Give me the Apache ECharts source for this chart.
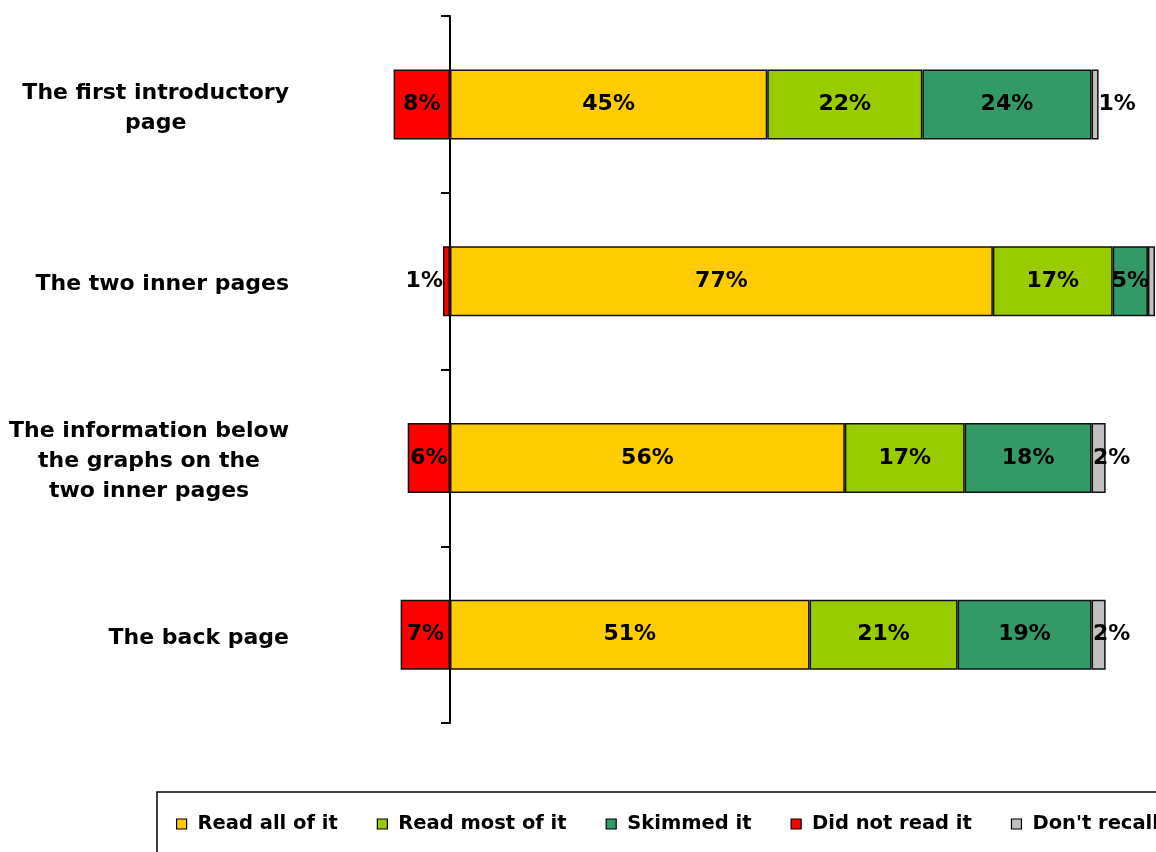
<!DOCTYPE html>
<html>
<head>
<meta charset="utf-8">
<script src="https://cdn.jsdelivr.net/npm/echarts@6/dist/echarts.min.js"></script>
<style>
html,body{margin:0;padding:0;background:#fff;overflow:hidden;width:1156px;height:852px;}
#chart{width:1300px;height:852px;}
</style>
</head>
<body>
<div id="chart"></div>
<script>
const categories = ['The first introductory\npage', 'The two inner pages', 'The information below\nthe graphs on the\ntwo inner pages', 'The back page'];
const readAll = [45, 77, 56, 51];
const readMost = [22, 17, 17, 21];
const skimmed = [24, 5, 18, 19];
const notRead = [8, 1, 6, 7];
const dontRecall = [1, 1, 2, 2];
const seriesNames = ['Read all of it', 'Read most of it', 'Skimmed it', 'Did not read it', "Don't recall"];

const FONT = '"DejaVu Sans", Verdana, sans-serif';
const colors = {
  'Read all of it': '#FFCC00',
  'Read most of it': '#99CC00',
  'Skimmed it': '#339966',
  'Did not read it': '#FF0000',
  "Don't recall": '#C0C0C0'
};

const labelBase = {
  show: true,
  position: 'inside',
  color: '#000',
  fontFamily: FONT,
  fontWeight: 'bold',
  fontSize: 22,
  formatter: p => Math.abs(p.value) + '%'
};

function makeSeries(name, values, itemFn) {
  return {
    name: name,
    type: 'bar',
    stack: 'total',
    barWidth: 70,
    itemStyle: { color: colors[name], borderColor: '#111', borderWidth: 1.5 },
    label: labelBase,
    emphasis: { disabled: true },
    data: values.map((v, i) => itemFn ? itemFn(v, i) : v)
  };
}

const series = [
  makeSeries('Did not read it', notRead, (v, i) => {
    const item = { value: -v };
    if (v < 2) item.label = { position: 'left', distance: 0 };
    return item;
  }),
  makeSeries('Read all of it', readAll),
  makeSeries('Read most of it', readMost),
  makeSeries('Skimmed it', skimmed),
  makeSeries("Don't recall", dontRecall, (v, i) => {
    const item = { value: v };
    if (i === 1) item.label = { show: false };
    else item.label = { offset: [v < 2 ? 22 : 13, 0] };
    return item;
  })
];

const chart = echarts.init(document.getElementById('chart'), null, { renderer: 'canvas' });
chart.setOption({
  animation: false,
  backgroundColor: '#fff',
  grid: { left: 379.5, width: 775.5, top: 16, height: 707, containLabel: false, outerBoundsMode: 'none' },
  xAxis: {
    type: 'value', min: -10, max: 100, show: false, splitLine: { show: false }
  },
  yAxis: {
    type: 'category',
    inverse: true,
    data: categories,
    axisLine: { onZero: true, lineStyle: { color: '#000', width: 2 } },
    axisTick: { show: true, length: 9, lineStyle: { color: '#000', width: 2 } },
    axisLabel: {
      margin: 90.5,
      align: 'right',
      padding: [7, 0, 0, 0],
      formatter: v => v.split('\n').map(l => '{c|' + l + '}').join('\n'),
      rich: {
        c: { align: 'center', fontFamily: FONT, fontWeight: 'bold', fontSize: 22, lineHeight: 30, color: '#000' }
      }
    }
  },
  legend: {
    data: seriesNames,
    left: 157,
    top: 792,
    orient: 'horizontal',
    padding: [22, 20, 22, 19],
    borderColor: '#000',
    borderWidth: 1.5,
    itemGap: 39,
    itemWidth: 10,
    itemHeight: 10,
    icon: 'rect',
    itemStyle: { borderColor: '#000', borderWidth: 1.2 },
    textStyle: { fontFamily: FONT, fontWeight: 'bold', fontSize: 19.5, color: '#000', padding: [0, 0, 0, 6] },
    selectedMode: false
  },
  series: series
});
</script>
</body>
</html>
